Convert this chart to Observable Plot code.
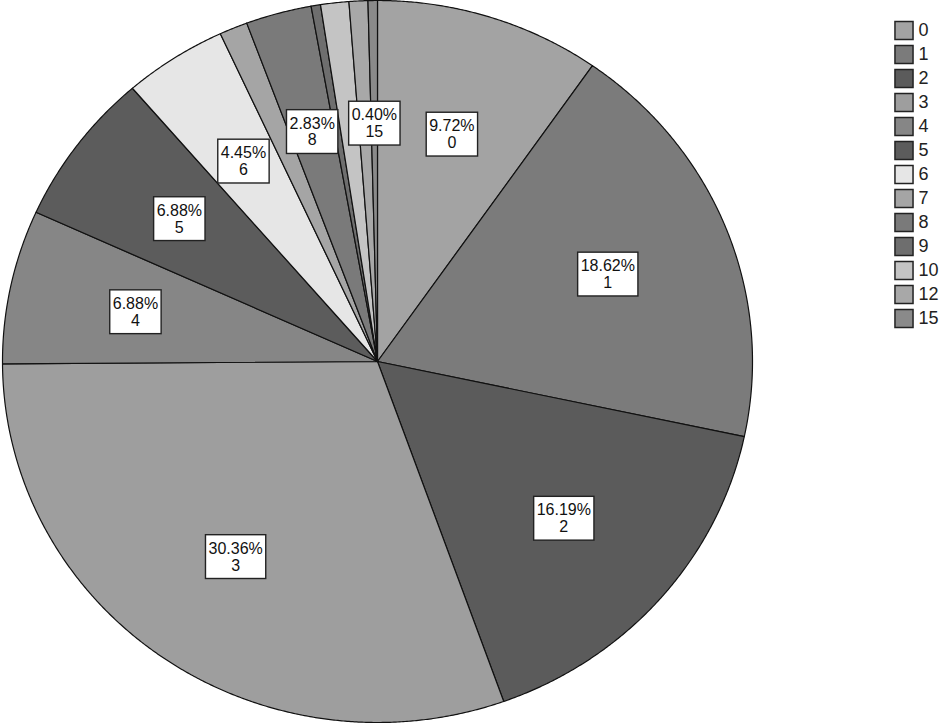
<!DOCTYPE html>
<html>
<head>
<meta charset="utf-8">
<script src="https://cdn.jsdelivr.net/npm/d3@7"></script>
<script src="https://cdn.jsdelivr.net/npm/@observablehq/plot@0.6"></script>
<style>
  html, body { margin: 0; padding: 0; background: #fff; }
  #wrap { position: relative; width: 942px; height: 725px; overflow: hidden; }
  #legend { position: absolute; left: 880px; top: 0; }
</style>
</head>
<body>
<div id="wrap"><div id="pie"></div><div id="legend"></div></div>
<script>
// ---- data ----
const categories = ["0", "1", "2", "3", "4", "5", "6", "7", "8", "9", "10", "12", "15"];
const counts = [24, 46, 40, 75, 17, 17, 11, 3, 7, 1, 3, 2, 1];
const shades = ["#a3a3a3", "#7b7b7b", "#5b5b5b", "#9e9e9e", "#868686", "#5c5c5c", "#e6e6e6",
                "#a5a5a5", "#7a7a7a", "#6e6e6e", "#c4c4c4", "#a8a8a8", "#8a8a8a"];
const labelled = ["0", "1", "2", "3", "4", "5", "6", "8", "15"];

const FONT = "'Liberation Sans', Arial, sans-serif";
const total = d3.sum(counts);
const rows = categories.map((c, i) => ({cat: c, count: counts[i]}));
const arcs = d3.pie().sort(null).value(d => d.count)(rows);

// slice outlines in unit-circle data space (angle clockwise from 12 o'clock)
const pts = [];
for (const a of arcs) {
  const c = a.data.cat;
  pts.push({cat: c, x: 0, y: 0});
  const n = Math.max(2, Math.ceil((a.endAngle - a.startAngle) / 0.005));
  for (let k = 0; k <= n; k++) {
    const t = a.startAngle + (a.endAngle - a.startAngle) * k / n;
    pts.push({cat: c, x: Math.sin(t), y: Math.cos(t)});
  }
  pts.push({cat: c, x: 0, y: 0});
}

const LR = 0.66;
const labels = arcs.filter(a => labelled.includes(a.data.cat)).map(a => {
  const m = (a.startAngle + a.endAngle) / 2;
  return {
    x: LR * Math.sin(m), y: LR * Math.cos(m),
    text: (a.data.count / total * 100).toFixed(2) + "%\n" + a.data.cat
  };
});

const colorScale = {domain: categories, range: shades};

const pie = Plot.plot({
  width: 942, height: 725, margin: 0,
  x: {domain: [-1, 1], range: [2, 752], axis: null},
  y: {domain: [-1, 1], range: [722, 0], axis: null},
  color: colorScale,
  style: {background: "white", fontFamily: FONT},
  marks: [
    Plot.line(pts, {x: "x", y: "y", z: "cat", fill: "cat", stroke: "#111", strokeWidth: 1.2, curve: "linear"}),
    Plot.text(labels, {x: "x", y: "y", text: "text", fontSize: 16, lineHeight: 1.05, fill: "#111", fontFamily: FONT})
  ]
});
document.getElementById("pie").appendChild(pie);

// white boxes behind the slice labels
const textGroup = pie.querySelector('g[aria-label="text"]');
textGroup.querySelectorAll("text").forEach(t => {
  const b = t.getBBox();
  const r = document.createElementNS("http://www.w3.org/2000/svg", "rect");
  r.setAttribute("x", b.x - 3);
  r.setAttribute("y", b.y - 5);
  r.setAttribute("width", b.width + 6);
  r.setAttribute("height", b.height + 10);
  r.setAttribute("fill", "white");
  r.setAttribute("stroke", "#222");
  r.setAttribute("stroke-width", 1.4);
  const tr = t.getAttribute("transform");
  if (tr) r.setAttribute("transform", tr);
  textGroup.insertBefore(r, t);
});

const legend = Plot.plot({
  width: 62, height: 345, margin: 0,
  y: {type: "point", domain: categories, range: [15, 332], axis: null},
  color: colorScale,
  style: {background: "transparent", fontFamily: FONT},
  marks: [
    Plot.dot(categories, {y: d => d, fill: d => d, symbol: "square", r: 10.2, stroke: "#222", strokeWidth: 1.5, frameAnchor: "left", dx: 23.5}),
    Plot.text(categories, {y: d => d, text: d => d, frameAnchor: "left", dx: 38, textAnchor: "start", fontSize: 18, fill: "#222", fontFamily: FONT})
  ]
});
document.getElementById("legend").appendChild(legend);
</script>
</body>
</html>
